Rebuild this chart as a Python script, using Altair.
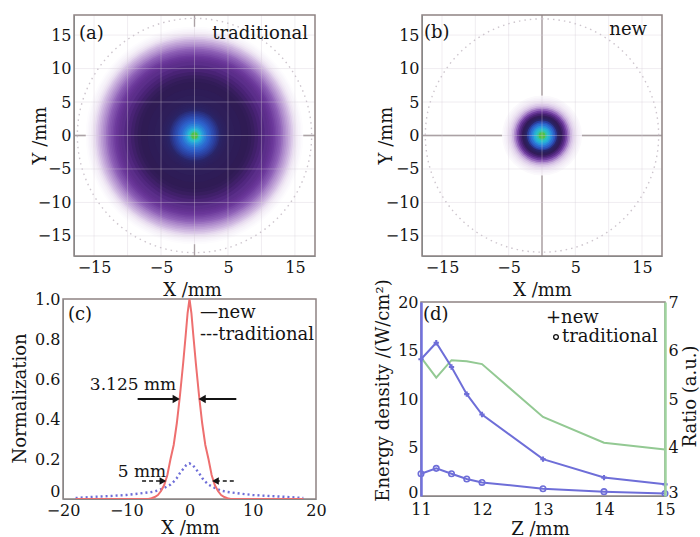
import altair as alt
import pandas as pd

W, H = 700, 537
FONT = "DejaVu Serif"
INK = "#141414"
FRAME = "#8e8383"
BLUE = "#6e6ed8"
RED = "#ee6f6f"
GREEN = "#93c993"

# ---------------- (a) traditional / (b) new : radial colour-level readings ----------------
a_radius = [16.25, 16.0, 15.75, 15.5, 15.25, 15.0, 14.75, 14.5, 14.25, 14.0, 13.75, 13.5, 13.25, 13.0,
            12.75, 12.5, 12.25, 12.0, 11.75, 11.5, 11.25, 11.0,
            10.5, 10.0, 9.5, 9.0, 8.5, 8.0, 7.0, 6.0, 5.0,
            4.75, 4.5, 4.25, 4.0, 3.75, 3.5, 3.25, 3.0, 2.75, 2.5, 2.25, 2.0, 1.75, 1.5, 1.25, 1.0, 0.75, 0.5]
a_level = [0.005, 0.012, 0.02, 0.03, 0.045, 0.06, 0.08, 0.10, 0.12, 0.14, 0.16, 0.18, 0.205, 0.23,
           0.25, 0.27, 0.29, 0.31, 0.325, 0.34, 0.355, 0.37,
           0.40, 0.43, 0.46, 0.49, 0.51, 0.52, 0.53, 0.54, 0.55,
           0.56, 0.57, 0.585, 0.60, 0.62, 0.64, 0.66, 0.68, 0.70, 0.72, 0.74, 0.76, 0.79, 0.82, 0.86, 0.90, 0.95, 1.0]
b_radius = [6.0, 5.75, 5.5, 5.25, 5.0, 4.75, 4.5, 4.25, 4.0, 3.75, 3.5, 3.25, 3.0, 2.75, 2.5, 2.25,
            2.0, 1.75, 1.5, 1.25, 1.0, 0.75, 0.5]
b_level = [0.01, 0.02, 0.03, 0.045, 0.06, 0.08, 0.11, 0.16, 0.22, 0.30, 0.38, 0.45, 0.51, 0.55, 0.60, 0.66,
           0.72, 0.77, 0.82, 0.87, 0.91, 0.96, 1.0]
cmap_stops = [0, 0.05, 0.12, 0.22, 0.32, 0.42, 0.52, 0.6, 0.66, 0.74, 0.82, 0.9, 0.96, 1.0]
cmap_colors = ["#ffffff", "#ece3f2", "#c8aedc", "#9468bb", "#6a379a", "#4c2479", "#2f1b54",
               "#2a2568", "#2b3d9a", "#2d62cc", "#2a90dc", "#27bcd2", "#35c3a0", "#50bf45"]
grid_vals = [-15, -10, -5, 0, 5, 10, 15]
ab_xticks = [-15, -5, 5, 15]
ab_yticks = [-15, -10, -5, 0, 5, 10, 15]
circle_r = [17.5]

# ---------------- (c) normalised profiles ----------------
c_new_x = [-18, -12, -8, -6.5, -6, -5.5, -5, -4.5, -4, -3.5, -3, -2.5, -2, -1.5, -1, -0.6, -0.3, 0,
           0.3, 0.6, 1, 1.5, 2, 2.5, 3, 3.5, 4, 4.5, 5, 5.5, 6, 6.5, 8, 12, 18]
c_new_y = [0, 0, 0, 0, 0.004, 0.01, 0.02, 0.04, 0.07, 0.12, 0.2, 0.27, 0.38, 0.52, 0.68, 0.82, 0.93, 1.0,
           0.93, 0.82, 0.68, 0.52, 0.38, 0.27, 0.2, 0.12, 0.07, 0.04, 0.02, 0.01, 0.004, 0, 0, 0, 0]
c_trad_x = [-18, -15, -12, -10, -8, -6, -5, -4, -3, -2.5, -2, -1.5, -1, -0.5, 0,
            0.5, 1, 1.5, 2, 2.5, 3, 4, 5, 6, 8, 10, 12, 15, 18]
c_trad_y = [0.005, 0.011, 0.016, 0.02, 0.027, 0.035, 0.042, 0.055, 0.072, 0.087, 0.105, 0.13, 0.15, 0.17, 0.178,
            0.17, 0.15, 0.13, 0.105, 0.087, 0.072, 0.055, 0.042, 0.035, 0.027, 0.02, 0.016, 0.011, 0.005]
c_xticks = [-20, -10, 0, 10, 20]
c_yticks = [0, 0.2, 0.4, 0.6, 0.8, 1.0]
arrow_solid_y = [0.5, 0.5]
arrow_solid_tail = [-8.2, 7.4]
arrow_solid_head = [-2.1, 2.0]
arrow_dash_y = [0.09, 0.09]
arrow_dash_tail = [-7.5, 7.0]
arrow_dash_head = [-4.2, 4.1]
arrow_dir = ["r", "l"]

# ---------------- (d) energy density and ratio ----------------
d_z = [11, 11.25, 11.5, 11.75, 12, 13, 14, 15]
d_new = [14.1, 15.8, 13.3, 10.5, 8.4, 3.8, 1.9, 1.2]
d_trad = [2.3, 2.85, 2.3, 1.75, 1.4, 0.75, 0.45, 0.25]
d_ratio = [5.86, 5.44, 5.80, 5.78, 5.72, 4.63, 4.10, 3.96]
d_xticks = [11, 12, 13, 14, 15]
d_yticks = [0, 5, 10, 15, 20]
d_rticks = [3, 4, 5, 6, 7]

DUMMY = pd.DataFrame({"k": [0]})


def sc(domain, rng):
    return alt.Scale(domain=domain, range=rng, nice=False, zero=False)


def text(t, x, y, align="left", size=18):
    return alt.Chart(pd.DataFrame({"t": [t]})).mark_text(
        align=align, baseline="alphabetic", font=FONT, fontSize=size, color=INK
    ).encode(x=alt.value(x), y=alt.value(y), text="t:N")


def lift(v, d=-4):
    # nudge the bottom-most label of a vertical axis up, away from the x labels
    return {"condition": {"test": f"datum.value == {v}", "value": d}, "value": 0}


def ax(orient, offset, values, title, tx, ty, angle=0, pad=3, **kw):
    return alt.Axis(orient=orient, offset=offset, values=values, title=title, titleX=tx, titleY=ty,
                    titleAngle=angle, titleAlign="center", titleBaseline="middle",
                    labelPadding=pad, labelOverlap=False, labelFlush=False, grid=False, ticks=False,
                    zindex=1, **kw)


def heat_panel(radius, level, xr, yr, xt, yt, tag, tagpos, name, namepos):
    xs = sc([-18, 18], xr)
    ys = sc([-18, 18], yr)
    rs = alt.Scale(type="linear", domain=[0, 18], range=[0, (xr[1] - xr[0]) / 2], zero=True)
    cs = alt.Scale(domain=cmap_stops, range=cmap_colors, interpolate="rgb")
    cx = alt.XDatum(0, scale=xs, axis=None)
    cy = alt.YDatum(0, scale=ys, axis=None)
    cross_v = alt.Chart(DUMMY).mark_rule(color="#958a8a", strokeWidth=1.3).encode(
        x=cx, y=alt.YDatum(-18, scale=ys, axis=None), y2=alt.Y2Datum(18))
    cross_h = alt.Chart(DUMMY).mark_rule(color="#958a8a", strokeWidth=1.3).encode(
        y=cy, x=alt.XDatum(-18, scale=xs, axis=None), x2=alt.X2Datum(18))
    circ = alt.Chart(pd.DataFrame({"r": circle_r})).mark_arc(
        theta=0, theta2=6.2832, filled=False, stroke="#cdc5cd", strokeWidth=1.4, strokeDash=[1.5, 4]
    ).encode(x=cx, y=cy, radius=alt.Radius("r:Q", scale=rs, stack=False))
    rings = alt.Chart(pd.DataFrame({"r": radius, "lvl": level})).mark_arc(theta=0, theta2=6.2832).encode(
        x=cx, y=cy, radius=alt.Radius("r:Q", scale=rs, stack=False),
        color=alt.Color("lvl:Q", scale=cs, legend=None))
    gv = alt.Chart(pd.DataFrame({"g": grid_vals})).mark_rule(color="#d4ccd6", opacity=0.35, strokeWidth=1).encode(
        x=alt.X("g:Q", scale=xs, axis=ax("bottom", yr[0] - H, ab_xticks, "X /mm", xt, 34)),
        y=alt.YDatum(-18, scale=ys, axis=None), y2=alt.Y2Datum(18))
    gh = alt.Chart(pd.DataFrame({"g": grid_vals})).mark_rule(color="#d4ccd6", opacity=0.35, strokeWidth=1).encode(
        y=alt.Y("g:Q", scale=ys, axis=ax("left", -xr[0], ab_yticks, "Y /mm", yt - xr[0], 135, angle=270)),
        x=alt.XDatum(-18, scale=xs, axis=None), x2=alt.X2Datum(18))
    frame = alt.Chart(DUMMY).mark_rect(fillOpacity=0, stroke=FRAME, strokeWidth=1.5).encode(
        x=alt.XDatum(-18, scale=xs, axis=None), x2=alt.X2Datum(18),
        y=alt.YDatum(-18, scale=ys, axis=None), y2=alt.Y2Datum(18))
    return [cross_v, cross_h, circ, rings, gv, gh, frame,
            text(tag, tagpos[0], tagpos[1]),
            text(name, namepos[0], namepos[1], align="right")]


units_a = heat_panel(a_radius, a_level, [74, 315], [256, 15], 192, 40, "(a)", (79, 39), "traditional", (308, 39))
units_b = heat_panel(b_radius, b_level, [422, 662], [256, 15], 542, 386, "(b)", (424, 38), "new", (647, 35))

# ---------------- panel (c) ----------------
cxs = sc([-20, 20], [63, 316])
cys = sc([0, 1], [499, 299])
c_frame = alt.Chart(DUMMY).mark_rect(fillOpacity=0, stroke=FRAME, strokeWidth=1.5).encode(
    x=alt.XDatum(-20, scale=cxs, axis=None), x2=alt.X2Datum(20),
    y=alt.YDatum(0, scale=cys, axis=None), y2=alt.Y2Datum(1))
c_new = alt.Chart(pd.DataFrame({"x": c_new_x, "y": c_new_y})).mark_line(color=RED, strokeWidth=2).encode(
    x=alt.X("x:Q", scale=cxs, axis=ax("bottom", 499 - H, c_xticks, "X /mm", 190, 29.5, pad=3)),
    y=alt.Y("y:Q", scale=cys,
            axis=ax("left", -63, c_yticks, "Normalization", 20 - 63, 398, angle=270,
                    labelOffset=lift(0, -8),
                    labelExpr="datum.value == 0 ? '0' : format(datum.value, '.1f')")),
    order="x:Q")
c_trad = alt.Chart(pd.DataFrame({"x": c_trad_x, "y": c_trad_y})).mark_line(
    color=BLUE, strokeWidth=2.4, strokeDash=[2, 3]).encode(
    x=alt.X("x:Q", scale=cxs, axis=None), y=alt.Y("y:Q", scale=cys, axis=None), order="x:Q")
shape_sc = alt.Scale(domain=["r", "l"], range=["triangle-right", "triangle-left"])
sol = pd.DataFrame({"y": arrow_solid_y, "t": arrow_solid_tail, "h": arrow_solid_head, "d": arrow_dir})
das = pd.DataFrame({"y": arrow_dash_y, "t": arrow_dash_tail, "h": arrow_dash_head, "d": arrow_dir})
c_arr1 = alt.Chart(sol).mark_rule(color=INK, strokeWidth=1.8).encode(
    x=alt.X("t:Q", scale=cxs, axis=None), x2="h:Q", y=alt.Y("y:Q", scale=cys, axis=None))
c_arr2 = alt.Chart(das).mark_rule(color=INK, strokeWidth=1.6, strokeDash=[4, 3]).encode(
    x=alt.X("t:Q", scale=cxs, axis=None), x2="h:Q", y=alt.Y("y:Q", scale=cys, axis=None))
c_head1 = alt.Chart(sol).mark_point(filled=True, color=INK, size=70, opacity=1).encode(
    x=alt.X("h:Q", scale=cxs, axis=None), y=alt.Y("y:Q", scale=cys, axis=None),
    shape=alt.Shape("d:N", scale=shape_sc, legend=None))
c_head2 = alt.Chart(das).mark_point(filled=True, color=INK, size=60, opacity=1).encode(
    x=alt.X("h:Q", scale=cxs, axis=None), y=alt.Y("y:Q", scale=cys, axis=None),
    shape=alt.Shape("d:N", scale=shape_sc, legend=None))
units_c = [c_frame, c_trad, c_new, c_arr1, c_arr2, c_head1, c_head2,
           text("(c)", 68, 320),
           text("\u2014new", 200, 318),
           text("---traditional", 200, 340),
           text("3.125 mm", 133, 390, align="center", size=17),
           text("5 mm", 142, 477, align="center", size=17)]

# ---------------- panel (d) ----------------
dxs = sc([11, 15], [421, 665])
dyl = sc([0, 20], [496, 302])
dyr = sc([3, 7], [496, 302])
d_frame = alt.Chart(DUMMY).mark_rect(fillOpacity=0, stroke=FRAME, strokeWidth=1.5).encode(
    x=alt.XDatum(11, scale=dxs, axis=None), x2=alt.X2Datum(15),
    y=alt.YDatum(0, scale=dyl, axis=None), y2=alt.Y2Datum(20))
dd = pd.DataFrame({"z": d_z, "new": d_new, "trad": d_trad, "ratio": d_ratio})
d_new_l = alt.Chart(dd).mark_line(color=BLUE, strokeWidth=2).encode(
    x=alt.X("z:Q", scale=dxs, axis=ax("bottom", 496 - H, d_xticks, "Z /mm", 540, 33, pad=5)),
    y=alt.Y("new:Q", scale=dyl,
            axis=ax("left", -421, d_yticks, "Energy density /(W/cm\u00b2)", 383 - 421, 390,
                    angle=270, domain=True, domainColor="#7272dc", domainWidth=2.5,
                    labelOffset=lift(0))))
d_new_p = alt.Chart(dd).mark_point(shape="cross", filled=True, color=BLUE, size=28, opacity=1).encode(
    x=alt.X("z:Q", scale=dxs, axis=None), y=alt.Y("new:Q", scale=dyl, axis=None))
d_trad_l = alt.Chart(dd).mark_line(color=BLUE, strokeWidth=2).encode(
    x=alt.X("z:Q", scale=dxs, axis=None), y=alt.Y("trad:Q", scale=dyl, axis=None))
d_trad_p = alt.Chart(dd).mark_point(filled=False, color=BLUE, size=30, strokeWidth=1.6, opacity=1).encode(
    x=alt.X("z:Q", scale=dxs, axis=None), y=alt.Y("trad:Q", scale=dyl, axis=None))
d_leg_o = alt.Chart(DUMMY).mark_point(filled=False, color=INK, size=22, strokeWidth=1.4, opacity=1).encode(
    x=alt.value(556), y=alt.value(337))
ratio = alt.Chart(dd).mark_line(color=GREEN, strokeWidth=2).encode(
    x=alt.X("z:Q", scale=dxs, axis=None),
    y=alt.Y("ratio:Q", scale=dyr,
            axis=ax("right", 665 - W, d_rticks, "Ratio (a.u.)", 25, 396, angle=270,
                    domain=True, domainColor="#9fd49f", domainWidth=2.5,
                    labelOffset=lift(3))))
units_d = [d_frame, ratio, d_new_l, d_trad_l, d_new_p, d_trad_p, d_leg_o,
           text("(d)", 423, 320),
           text("+new", 546, 323),
           text("traditional", 562, 342)]

chart = alt.layer(*(units_a + units_b + units_c + units_d)).resolve_scale(
    x="independent", y="independent", color="independent", radius="independent", shape="independent"
).properties(
    width=W, height=H, autosize=alt.AutoSizeParams(type="none"), padding=0, background="white"
).configure_view(stroke="transparent").configure_axis(
    labelFont=FONT, labelFontSize=16, labelColor=INK,
    titleFont=FONT, titleFontSize=18, titleFontWeight="normal", titleColor=INK
)

chart.save("out.html", embed_options={"renderer": "svg", "actions": False})
